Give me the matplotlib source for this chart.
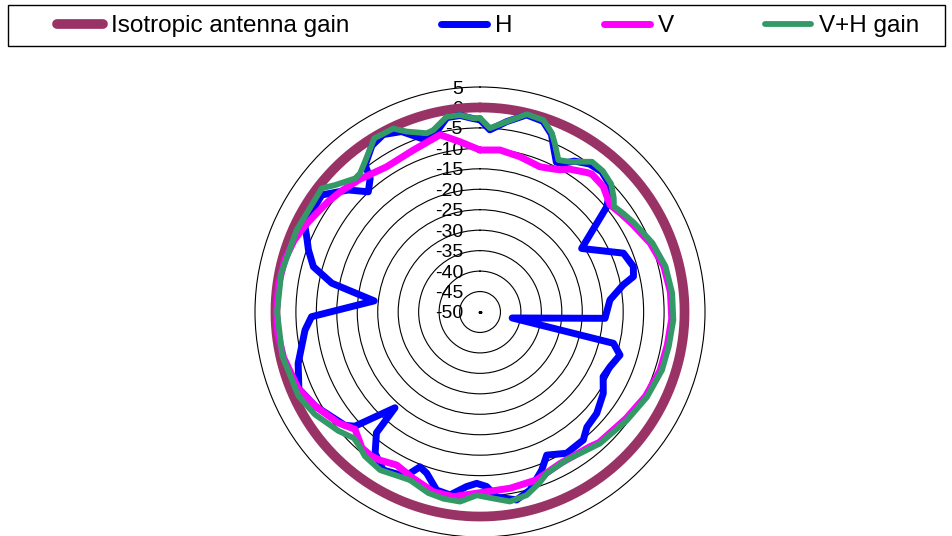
import numpy as np
import matplotlib
matplotlib.use('Agg')
import matplotlib.pyplot as plt
from matplotlib import font_manager, transforms
from matplotlib.patches import Rectangle

# angle in degrees (clockwise from top), gain in dB
h_angle = [0, 3.1, 8, 13.3, 18.3, 21.9, 24, 27, 29, 32, 36.5, 41, 45.7, 48.5, 50.3, 58,
           67.7, 73.5, 77, 79.3, 84.7, 92.9, 100.5, 103.2, 107.1, 112.8, 117.7, 123.4,
           131, 137.1, 141.1, 148.5, 155, 158.7, 164.3, 169, 174.8, 177.8, 181.1, 184.4,
           189.3, 193.7, 198.3, 201.2, 203.5, 205, 211.5, 216.6, 220.6, 221.6, 227.6,
           230, 240.3, 247, 254.2, 264.1, 268.4, 276, 281, 285.2, 289.9, 293.5, 296,
           300.8, 306.5, 312.8, 317.1, 320.6, 322, 327, 331.4, 336.5, 342, 346, 350.3,
           354.2, 358, 360]
h_gain = [-3.0, -5.4, -3.0, -0.5, -0.9, -3.2, -5.8, -8.9, -8.5, -6.5, -5.0, -4.6, -5.6,
          -8.1, -9.7, -20.7, -12.1, -10.9, -11.5, -14.4, -18.1, -19.4, -42.0, -16.5,
          -14.2, -15.5, -16.0, -13.9, -12.2, -11.6, -9.8, -9.5, -11.4, -8.5, -4.8, -3.2,
          -4.6, -7.3, -8.1, -7.2, -4.7, -5.2, -8.5, -9.4, -7.0, -5.8, -4.7, -7.0, -11.1,
          -18.7, -8.6, -6.9, -3.6, -1.9, -3.8, -7.0, -8.8, -24.0, -13.1, -7.8, -5.4,
          -3.8, -2.4, -2.1, -1.9, -6.1, -9.9, -7.7, -4.4, -1.5, -0.6, -1.9, -5.6, -5.0,
          -1.8, -1.7, -2.7, -3.0]

v_angle = [0, 7, 14.4, 22.4, 27.6, 29.4, 32, 37.6, 39, 44.5, 50.5, 55, 60, 68, 76, 84,
           92, 100, 108, 117, 126, 137.6, 140.8, 152.1, 161.4, 170.3, 181, 188.2, 194.6,
           201.9, 208.6, 214, 217, 221, 226.8, 232, 240.3, 247, 257, 264, 270, 278, 285,
           291, 296, 301, 306, 311, 317.7, 327.3, 337.6, 347.3, 353.3, 360]
v_gain = [-10.4, -10.1, -10.8, -11.6, -10.6, -10.1, -8.8, -7.0, -6.6, -7.0, -8.8, -8.0,
          -7.0, -5.1, -3.7, -3.2, -3.1, -3.5, -3.7, -4.6, -5.8, -6.8, -7.5, -8.1, -6.7,
          -6.3, -5.7, -4.4, -4.6, -6.2, -7.4, -6.3, -5.9, -6.0, -8.1, -6.0, -3.6, -1.8,
          -0.7, -0.3, -0.2, -0.3, -0.6, -1.3, -2.2, -3.3, -4.1, -5.0, -6.2, -7.8, -7.2,
          -5.6, -8.1, -10.4]

vh_angle = [0, 3.1, 8, 13.3, 18.3, 21.9, 24, 27.3, 30.9, 36.7, 41, 45.7, 49.5, 51.7, 55,
            59.9, 68.2, 76.2, 84.4, 92.4, 100.4, 107.7, 117, 126.4, 137.6, 142, 149.6,
            157.5, 161, 165.7, 171, 175.9, 181, 186, 191.1, 196, 202.6, 212.3, 218.6, 222,
            225, 230, 238.2, 245.2, 257.5, 270, 281, 294, 308, 311.2, 316.9, 319.1, 322,
            328.7, 334.7, 337.9, 343.4, 345.6, 350.3, 354.2, 358, 360]
vh_gain = [-2.6, -5.0, -3.0, -0.3, -0.6, -2.9, -5.0, -8.2, -7.2, -4.2, -4.3, -5.2, -7.0,
           -8.3, -7.6, -6.5, -4.6, -3.3, -2.8, -2.7, -3.1, -3.3, -4.2, -5.4, -6.5, -7.3,
           -8.1, -7.3, -5.7, -3.8, -3.1, -4.3, -5.2, -3.4, -3.5, -4.0, -5.5, -4.3, -4.9,
           -5.9, -6.4, -4.8, -2.5, -1.1, -0.5, -0.4, -0.5, -0.9, -0.9, -2.9, -5.3, -5.2,
           -4.0, -0.3, -0.4, -2.4, -4.4, -4.1, -1.6, -1.6, -2.6, -2.6]

iso_angle = np.arange(0, 361, 2)
iso_gain = np.zeros(len(iso_angle))

ring_values = list(range(-50, 10, 5))

names = {f.name for f in font_manager.fontManager.ttflist}
tick_family = 'Liberation Sans Narrow' if 'Liberation Sans Narrow' in names else 'Liberation Sans'

fig = plt.figure(figsize=(9.52, 5.36), dpi=100)
ax = fig.add_axes([255 / 952, -1 / 536, 450 / 952, 450 / 536], projection='polar')
ax.set_theta_zero_location('N')
ax.set_theta_direction(-1)

l_iso, = ax.plot(np.radians(iso_angle), iso_gain, color='#993366', lw=7,
                 solid_capstyle='round', zorder=3)
l_h, = ax.plot(np.radians(h_angle), h_gain, color='#0000FF', lw=5,
               solid_capstyle='round', solid_joinstyle='round', zorder=4)
l_v, = ax.plot(np.radians(v_angle), v_gain, color='#FF00FF', lw=5,
               solid_capstyle='round', solid_joinstyle='round', zorder=5)
l_vh, = ax.plot(np.radians(vh_angle), vh_gain, color='#339966', lw=4.2,
                solid_capstyle='round', solid_joinstyle='round', zorder=6)

ax.set_ylim(-50, 5)
ax.set_xticks([])
ax.set_yticks(ring_values[1:-1])
ax.set_yticklabels([])
ax.yaxis.grid(True, color='black', linewidth=0.8)
ax.spines['polar'].set_color('black')
ax.spines['polar'].set_linewidth(0.8)

# small mark at the centre, as in the original
ax.plot([0], [-50], marker='_', color='black', markersize=3, zorder=2)

lab_tf = transforms.offset_copy(ax.transData, fig=fig, x=-17, y=0, units='dots')
for v in ring_values:
    ax.text(0, v, str(v), transform=lab_tf, ha='right', va='center_baseline',
            fontsize=14, family=tick_family, color='black', zorder=2)

fig.legend([l_iso, l_h, l_v, l_vh], ['Isotropic antenna gain', 'H', 'V', 'V+H gain'],
           loc='center', bbox_to_anchor=(488.5 / 952, 1 - 26 / 536), ncol=4,
           frameon=False, prop={'family': 'Liberation Sans', 'size': 17.5},
           handlelength=1.9, handletextpad=0.33, columnspacing=3.75, borderaxespad=0)
fig.patches.append(Rectangle((8 / 952, 1 - 46 / 536), 937 / 952, 41 / 536,
                             transform=fig.transFigure, fill=False,
                             edgecolor='black', linewidth=1))

fig.savefig('out.png', dpi=100)
